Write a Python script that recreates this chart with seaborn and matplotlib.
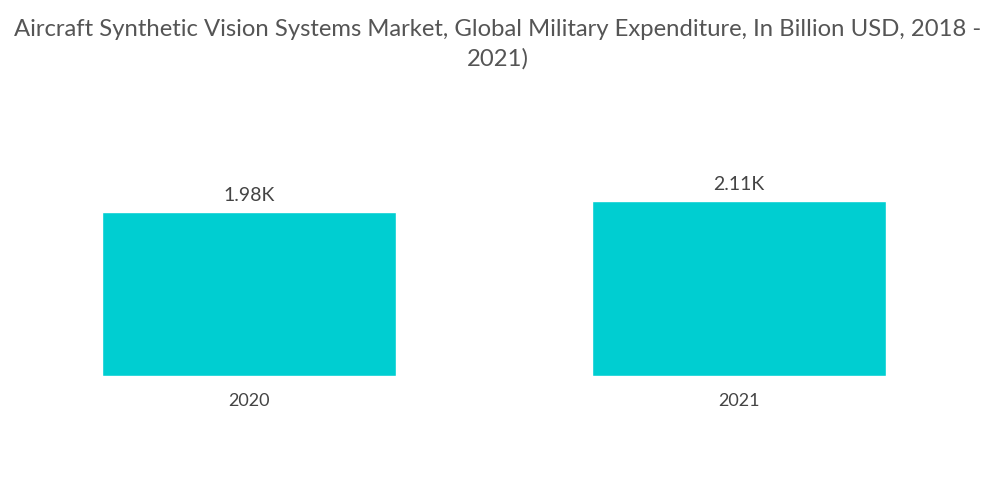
import matplotlib
matplotlib.use("Agg")
import matplotlib.pyplot as plt
import seaborn as sns
import pandas as pd

years = ["2020", "2021"]
expenditure = [1981, 2113]
bar_color = "#00CED1"

df = pd.DataFrame({"Year": years, "Expenditure": expenditure})

sns.set_style("white")
plt.rcParams["font.family"] = ["Lato", "DejaVu Sans"]

fig = plt.figure(figsize=(10, 5.04), dpi=100)
ax = fig.add_axes([0.004, 0.254, 0.98, 0.526])

sns.barplot(data=df, x="Year", y="Expenditure", color=bar_color,
            width=0.6, saturation=1, ax=ax)

for i, v in enumerate(expenditure):
    ax.annotate(f"{v/1000:.2f}K", (i, v), xytext=(0, 6), textcoords="offset points",
                ha="center", va="bottom", fontsize=14, color="#444444")

ax.set_xlim(-0.5, 1.5)
ax.set_ylim(0, 3210)
ax.set_yticks([])
ax.set_xlabel("")
ax.set_ylabel("")
ax.tick_params(axis="x", length=0, pad=12, labelsize=13, labelcolor="#444444")
sns.despine(ax=ax, left=True, bottom=True)

fig.text(0.498, 0.962,
         "Aircraft Synthetic Vision Systems Market, Global Military Expenditure, In Billion USD, 2018 -\n2021)",
         ha="center", va="top", fontsize=17.2, color="#555555", linespacing=1.45)

fig.savefig("out.png", dpi=100)
